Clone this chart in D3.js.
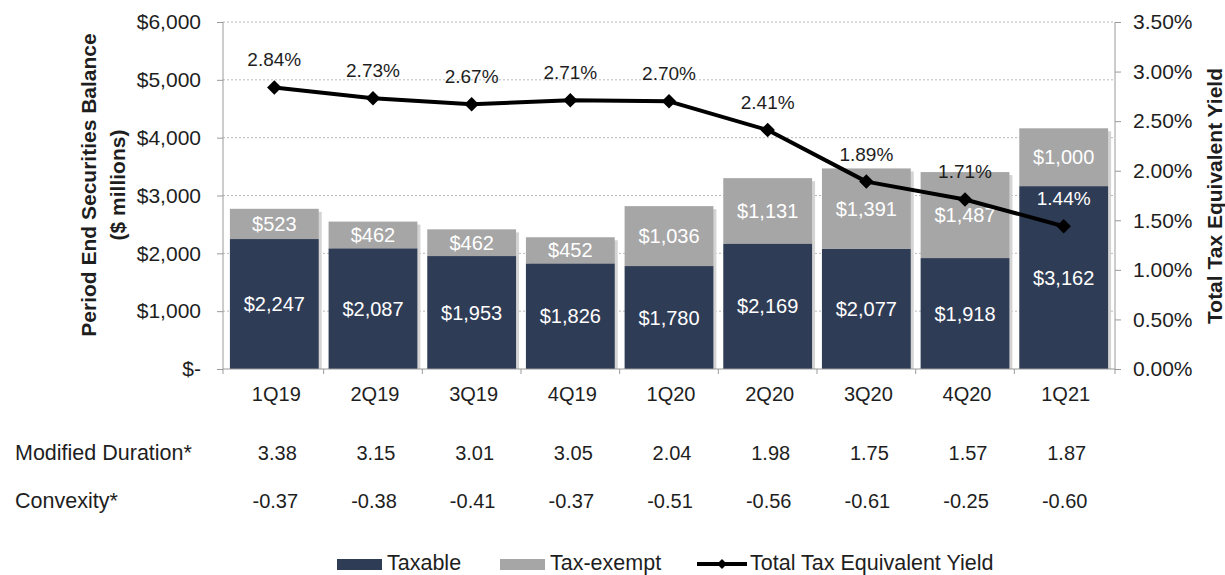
<!DOCTYPE html>
<html>
<head>
<meta charset="utf-8">
<script src="https://cdn.jsdelivr.net/npm/d3@7"></script>
<style>
  body { margin: 0; background: #fff; }
  svg { display: block; font-family: "Liberation Sans", Arial, sans-serif; }
  .axis path, .axis line { stroke: #9a9a9a; }
  .axis text { fill: #1e1e1e; font-size: 21px; }
</style>
</head>
<body>
<div class="chart"></div>
<script>
// chart data
const quarters = ['1Q19', '2Q19', '3Q19', '4Q19', '1Q20', '2Q20', '3Q20', '4Q20', '1Q21'];
const taxable = [2247, 2087, 1953, 1826, 1780, 2169, 2077, 1918, 3162];
const taxExempt = [523, 462, 462, 452, 1036, 1131, 1391, 1487, 1000];
const yieldPct = [2.84, 2.73, 2.67, 2.71, 2.70, 2.41, 1.89, 1.71, 1.44];
const modDuration = ['3.38', '3.15', '3.01', '3.05', '2.04', '1.98', '1.75', '1.57', '1.87'];
const convexity = ['-0.37', '-0.38', '-0.41', '-0.37', '-0.51', '-0.56', '-0.61', '-0.25', '-0.60'];
const balanceTicks = [0, 1000, 2000, 3000, 4000, 5000, 6000];
const yieldTicks = [0, 0.5, 1, 1.5, 2, 2.5, 3, 3.5];

const width = 1225;
const height = 575;
const navy = '#2f3c56';
const grey = '#a6a6a6';

const svg = d3.select('.chart')
   .append('svg')
   .attr('width', width)
   .attr('height', height);

const plotLeft = 223, plotRight = 1115, plotTop = 22, plotBottom = 369;

const x = d3.scaleBand()
   .domain(quarters)
   .range([plotLeft, plotRight])
   .paddingInner(0.1)
   .paddingOuter(0.07);

const y = d3.scaleLinear().domain([0, 6000]).range([plotBottom, plotTop]);
const y2 = d3.scaleLinear().domain([0, 3.5]).range([plotBottom, plotTop]);

const rows = quarters.map((q, i) => ({
   q: q, taxable: taxable[i], exempt: taxExempt[i], yld: yieldPct[i]
}));

// gridlines
svg.append('g')
   .selectAll('line')
   .data(balanceTicks.filter(d => d > 0))
   .enter().append('line')
      .attr('x1', plotLeft).attr('x2', plotRight)
      .attr('y1', d => y(d)).attr('y2', d => y(d))
      .attr('stroke', '#b8b8b8')
      .attr('stroke-dasharray', '2,2');

// bar shadows
svg.append('g')
   .selectAll('rect')
   .data(rows)
   .enter().append('rect')
      .attr('x', d => x(d.q) + 3)
      .attr('y', d => y(d.taxable + d.exempt) + 3)
      .attr('width', x.bandwidth())
      .attr('height', d => plotBottom - y(d.taxable + d.exempt) - 3)
      .attr('fill', '#d4d4d4');

// stacked bars
const bars = svg.append('g');
bars.selectAll('rect.taxable')
   .data(rows)
   .enter().append('rect')
      .classed('taxable', true)
      .attr('x', d => x(d.q))
      .attr('y', d => y(d.taxable))
      .attr('width', x.bandwidth())
      .attr('height', d => plotBottom - y(d.taxable))
      .attr('fill', navy);

bars.selectAll('rect.exempt')
   .data(rows)
   .enter().append('rect')
      .classed('exempt', true)
      .attr('x', d => x(d.q))
      .attr('y', d => y(d.taxable + d.exempt))
      .attr('width', x.bandwidth())
      .attr('height', d => y(d.taxable) - y(d.taxable + d.exempt))
      .attr('fill', grey);

const fmt = d3.format('$,');

bars.selectAll('text.tlab')
   .data(rows)
   .enter().append('text')
      .attr('x', d => x(d.q) + x.bandwidth() / 2)
      .attr('y', d => (y(0) + y(d.taxable)) / 2 + 7)
      .attr('text-anchor', 'middle')
      .attr('fill', '#fff')
      .style('font-size', '20px')
      .text(d => fmt(d.taxable));

bars.selectAll('text.elab')
   .data(rows)
   .enter().append('text')
      .attr('x', d => x(d.q) + x.bandwidth() / 2)
      .attr('y', d => (y(d.taxable) + y(d.taxable + d.exempt)) / 2 + 7)
      .attr('text-anchor', 'middle')
      .attr('fill', '#fff')
      .style('font-size', '20px')
      .text(d => fmt(d.exempt));

// axes
const yAxis = d3.axisLeft(y)
   .tickValues(balanceTicks)
   .tickSize(6)
   .tickPadding(16)
   .tickFormat(d => d === 0 ? '$-' : fmt(d));

svg.append('g')
   .classed('axis', true)
   .attr('transform', `translate(${plotLeft},0)`)
   .call(yAxis)
   .call(g => g.select('.domain').attr('d', `M0,${plotTop}V${plotBottom}`));

const y2Axis = d3.axisRight(y2)
   .tickValues(yieldTicks)
   .tickSize(6)
   .tickPadding(12)
   .tickFormat(d => d3.format('.2%')(d / 100));

svg.append('g')
   .classed('axis', true)
   .attr('transform', `translate(${plotRight},0)`)
   .call(y2Axis)
   .call(g => g.select('.domain').attr('d', `M0,${plotTop}V${plotBottom}`));

// x axis line with ticks between categories
const step = x.step();
const xg = svg.append('g').classed('axis', true);
xg.append('line')
   .attr('x1', plotLeft).attr('x2', plotRight)
   .attr('y1', plotBottom).attr('y2', plotBottom);
xg.selectAll('line.tick')
   .data(quarters.slice(1))
   .enter().append('line')
      .attr('x1', d => x(d) - (step - x.bandwidth()) / 2)
      .attr('x2', d => x(d) - (step - x.bandwidth()) / 2)
      .attr('y1', plotBottom).attr('y2', plotBottom + 5);
xg.selectAll('line.edge')
   .data([plotLeft, plotRight])
   .enter().append('line')
      .attr('x1', d => d).attr('x2', d => d)
      .attr('y1', plotBottom).attr('y2', plotBottom + 5);
xg.selectAll('text')
   .data(quarters)
   .enter().append('text')
      .attr('x', d => x(d) + x.bandwidth() / 2 + 2)
      .attr('y', 401)
      .attr('text-anchor', 'middle')
      .style('font-size', '20px')
      .text(d => d);

// yield line
const cx = d => x(d.q) + x.bandwidth() / 2;
const line = d3.line().x(cx).y(d => y2(d.yld));

svg.append('path')
   .datum(rows)
   .attr('d', line)
   .attr('fill', 'none')
   .attr('stroke', '#000')
   .attr('stroke-width', 4)
   .attr('stroke-linejoin', 'round');

svg.append('g')
   .selectAll('path')
   .data(rows)
   .enter().append('path')
      .attr('d', d3.symbol(d3.symbolSquare, 105))
      .attr('transform', d => `translate(${cx(d)},${y2(d.yld)}) rotate(45)`)
      .attr('fill', '#000');

svg.append('g')
   .selectAll('text')
   .data(rows)
   .enter().append('text')
      .attr('x', d => cx(d))
      .attr('y', d => y2(d.yld) - 21)
      .attr('text-anchor', 'middle')
      .style('font-size', '19px')
      .attr('fill', d => (y2(d.yld) - 28) > y(d.taxable) ? '#fff' : '#1e1e1e')
      .text(d => d3.format('.2f')(d.yld) + '%');

// axis titles
svg.append('text')
   .attr('transform', 'translate(96,185) rotate(-90)')
   .attr('text-anchor', 'middle')
   .style('font-size', '21px')
   .style('font-weight', 'bold')
   .attr('fill', '#1e1e1e')
   .text('Period End Securities Balance');

svg.append('text')
   .attr('transform', 'translate(125,185) rotate(-90)')
   .attr('text-anchor', 'middle')
   .style('font-size', '21px')
   .style('font-weight', 'bold')
   .attr('fill', '#1e1e1e')
   .text('($ millions)');

svg.append('text')
   .attr('transform', 'translate(1222,196) rotate(-90)')
   .attr('text-anchor', 'middle')
   .style('font-size', '21px')
   .style('font-weight', 'bold')
   .attr('fill', '#1e1e1e')
   .text('Total Tax Equivalent Yield');

// table rows
const table = svg.append('g').style('font-size', '20px').attr('fill', '#1e1e1e');

table.append('text').attr('x', 15).attr('y', 460).style('font-size', '21.5px').text('Modified Duration*');
table.append('text').attr('x', 15).attr('y', 508).style('font-size', '21.5px').text('Convexity*');

table.selectAll('text.md')
   .data(modDuration)
   .enter().append('text')
      .attr('x', (d, i) => x(quarters[i]) + x.bandwidth() / 2 + 3)
      .attr('y', 460)
      .attr('text-anchor', 'middle')
      .text(d => d);

table.selectAll('text.cv')
   .data(convexity)
   .enter().append('text')
      .attr('x', (d, i) => x(quarters[i]) + x.bandwidth() / 2 + 1)
      .attr('y', 508)
      .attr('text-anchor', 'middle')
      .text(d => d);

// legend
const legend = svg.append('g').style('font-size', '21.5px').attr('fill', '#1e1e1e');

legend.append('rect').attr('x', 337).attr('y', 559).attr('width', 45).attr('height', 11).attr('fill', navy);
legend.append('text').attr('x', 387).attr('y', 570).text('Taxable');

legend.append('rect').attr('x', 500).attr('y', 559).attr('width', 45).attr('height', 11).attr('fill', grey);
legend.append('text').attr('x', 550).attr('y', 570).text('Tax-exempt');

legend.append('line')
   .attr('x1', 697).attr('x2', 747)
   .attr('y1', 564).attr('y2', 564)
   .attr('stroke', '#000').attr('stroke-width', 4);
legend.append('path')
   .attr('d', d3.symbol(d3.symbolSquare, 50))
   .attr('transform', 'translate(722,564) rotate(45)')
   .attr('fill', '#000');
legend.append('text').attr('x', 750).attr('y', 570).text('Total Tax Equivalent Yield');

</script>
</body>
</html>
